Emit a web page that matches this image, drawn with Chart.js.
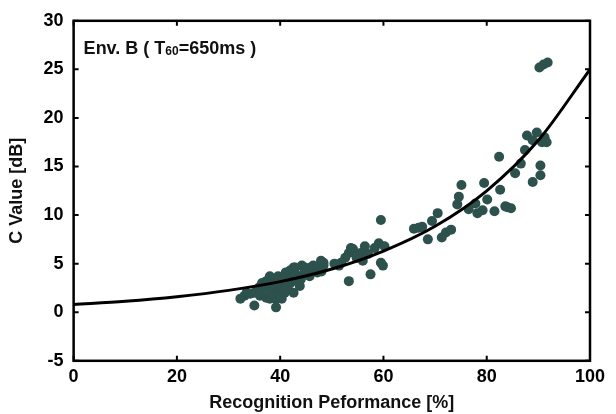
<!DOCTYPE html>
<html>
<head>
<meta charset="utf-8">
<script src="https://cdn.jsdelivr.net/npm/chart.js@4"></script>
<style>
  html, body { margin: 0; padding: 0; background: #fff; }
  #wrap { width: 616px; height: 414px; }
</style>
</head>
<body>
<div id="wrap"><canvas id="cChart" width="616" height="414"></canvas></div>
<script>
// fitted curve
const curveX = [0, 10, 20, 30, 40, 50, 60, 70, 80, 90, 100];
const curveY = [0.8, 1.13, 1.6, 2.25, 3.15, 4.45, 6.3, 8.85, 12.5, 17.7, 25.0];

// measured points (recognition %, C value dB)
const pointX = [
  90.2, 91.0, 91.8, 87.8, 89.7, 88.9, 91.2, 91.6, 90.7, 87.4,
  86.6, 85.5, 90.4, 90.4, 88.9, 82.4, 82.6, 83.6, 84.7, 81.5,
  80.1, 79.5, 79.2, 78.2, 77.8, 75.1, 74.6, 74.3, 70.5, 69.4,
  67.5, 65.9, 68.6, 71.3, 72.1, 73.1, 59.5, 59.1, 60.2, 58.3,
  59.5, 59.9, 57.5, 56.4, 55.6, 56.0, 54.1, 53.3, 52.6, 53.7,
  51.8, 53.3, 51.4, 48.4, 48.4, 46.4, 47.2, 45.3, 45.7, 44.2,
  42.6, 41.9, 41.1, 42.3, 40.3, 43.8, 42.6, 41.5, 39.6, 38.0,
  37.3, 36.9, 35.7, 35.0, 38.4, 39.2, 40.3, 39.2, 35.0, 33.1,
  32.3, 33.5, 36.1, 37.3, 38.0, 40.0, 40.9, 41.5, 38.8, 39.6,
  36.5, 43.4, 44.8, 46.9, 50.5, 54.8, 57.0, 66.8, 76.5, 84.0,
  36.5, 37.8, 38.6, 39.4, 40.6, 41.2, 42.0, 43.0, 44.6, 45.9,
  47.6, 48.0, 38.2, 39.8, 36.0, 34.2, 40.8, 42.9, 47.9, 44.0
];
const pointY = [
  25.2, 25.5, 25.7, 18.2, 18.5, 17.7, 18.0, 17.5, 17.5, 16.7,
  15.3, 14.3, 15.1, 14.1, 13.4, 16.0, 12.6, 10.9, 10.7, 10.4,
  11.6, 13.3, 10.5, 10.2, 11.2, 13.1, 11.9, 11.1, 10.2, 9.4,
  8.8, 8.6, 7.5, 7.7, 8.2, 8.5, 9.5, 7.1, 6.8, 6.6,
  5.1, 4.8, 3.9, 6.8, 6.1, 5.3, 6.5, 6.1, 5.6, 6.6,
  5.1, 3.2, 4.8, 4.8, 5.1, 4.8, 4.1, 4.3, 3.7, 4.8,
  4.6, 4.3, 4.1, 3.6, 3.4, 2.7, 2.0, 2.7, 2.7, 3.7,
  3.2, 2.7, 2.4, 2.0, 2.0, 1.4, 1.4, 0.5, 0.7, 1.7,
  1.4, 2.0, 1.7, 1.5, 1.4, 2.4, 2.0, 3.2, 3.2, 3.7,
  2.0, 3.2, 4.6, 4.4, 5.0, 5.6, 6.0, 8.7, 10.6, 10.8,
  3.0, 2.6, 2.4, 2.9, 3.0, 2.5, 3.0, 3.9, 4.0, 4.6,
  4.6, 4.2, 1.8, 1.9, 2.6, 1.9, 3.8, 4.6, 5.3, 3.4
];

const xTicks = [0, 20, 40, 60, 80, 100];
const yTicks = [-5, 0, 5, 10, 15, 20, 25, 30];

const FONT = 'Liberation Sans, Arial, sans-serif';

// frame, inward ticks and the label box
const framePlugin = {
  id: 'frame',
  afterDatasetsDraw(chart) {
    const { ctx, chartArea: a, scales } = chart;
    ctx.save();
    ctx.strokeStyle = '#000';
    ctx.lineWidth = 2.5;
    ctx.strokeRect(a.left, a.top, a.right - a.left, a.bottom - a.top);
    ctx.lineWidth = 2;
    xTicks.forEach(v => {
      const px = scales.x.getPixelForValue(v);
      ctx.beginPath();
      ctx.moveTo(px, a.bottom); ctx.lineTo(px, a.bottom - 5);
      ctx.moveTo(px, a.top); ctx.lineTo(px, a.top + 5);
      ctx.stroke();
    });
    yTicks.forEach(v => {
      const py = scales.y.getPixelForValue(v);
      ctx.beginPath();
      ctx.moveTo(a.left, py); ctx.lineTo(a.left + 5, py);
      ctx.moveTo(a.right, py); ctx.lineTo(a.right - 5, py);
      ctx.stroke();
    });
    // Env. B ( T60=650ms )
    ctx.fillStyle = '#111';
    ctx.textBaseline = 'alphabetic';
    let x = a.left + 10, y = a.top + 33;
    ctx.font = 'bold 18px ' + FONT;
    ctx.fillText('Env. B ( T', x, y);
    x += ctx.measureText('Env. B ( T').width;
    ctx.font = 'bold 12px ' + FONT;
    ctx.fillText('60', x, y + 1);
    x += ctx.measureText('60').width;
    ctx.font = 'bold 18px ' + FONT;
    ctx.fillText('=650ms )', x, y);
    ctx.restore();
  }
};

const curve = curveX.map((v, i) => ({ x: v, y: curveY[i] }));
const points = pointX.map((v, i) => ({ x: v, y: pointY[i] }));

new Chart(document.getElementById('cChart').getContext('2d'), {
  type: 'scatter',
  data: {
    datasets: [{
      label: 'Measured',
      data: points,
      backgroundColor: '#2d514c',
      borderColor: '#2d514c',
      pointRadius: 5,
      pointBorderWidth: 0,
      order: 2
    }, {
      label: 'Fit',
      data: curve,
      showLine: true,
      borderColor: '#000',
      borderWidth: 3,
      pointRadius: 0,
      cubicInterpolationMode: 'monotone',
      order: 1
    }]
  },
  options: {
    responsive: false,
    animation: false,
    layout: { padding: { left: 6, right: 26, top: 14, bottom: 0 } },
    plugins: {
      legend: { display: false },
      tooltip: { enabled: false }
    },
    scales: {
      x: {
        type: 'linear',
        min: 0, max: 100,
        grid: { display: false, drawTicks: false },
        border: { display: false },
        ticks: {
          stepSize: 20, padding: 5, color: '#000',
          font: { family: FONT, size: 18, weight: 'bold' }
        },
        title: {
          display: true, text: 'Recognition Peformance [%]', color: '#111',
          padding: { top: 0, bottom: 0 },
          font: { family: FONT, size: 18, weight: 'bold' }
        }
      },
      y: {
        type: 'linear',
        min: -5, max: 30,
        grid: { display: false, drawTicks: false },
        border: { display: false },
        ticks: {
          stepSize: 5, padding: 10, color: '#000',
          font: { family: FONT, size: 18, weight: 'bold' }
        },
        title: {
          display: true, text: 'C Value [dB]', color: '#111',
          padding: { top: 0, bottom: 6 },
          font: { family: FONT, size: 18, weight: 'bold' }
        }
      }
    }
  },
  plugins: [framePlugin]
});
</script>
</body>
</html>
